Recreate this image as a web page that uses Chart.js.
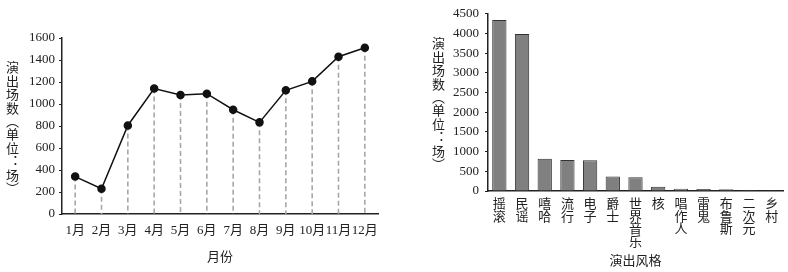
<!DOCTYPE html>
<html>
<head>
<meta charset="utf-8">
<script src="https://cdn.jsdelivr.net/npm/chart.js@4/dist/chart.umd.min.js"></script>
<style>
  body { margin: 0; background: #fff; width: 788px; height: 272px; position: relative; overflow: hidden; }
  .box { position: absolute; top: 0; height: 272px; }
  .ytitle {
    position: absolute;
    writing-mode: vertical-rl;
    font-family: 'Noto Sans CJK SC', sans-serif;
    font-size: 13px;
    line-height: 1;
    letter-spacing: 0.4px;
    color: #222;
  }
</style>
</head>
<body>
<div class="box" style="left:0;width:395px"><canvas id="monthChart"></canvas></div>
<div class="box" style="left:400px;width:388px"><canvas id="styleChart"></canvas></div>
<div class="ytitle" style="left:6px;top:61px">演出场数（单位：场）</div>
<div class="ytitle" style="left:432px;top:37px">演出场数（单位：场）</div>
<script>
// monthly shows
const months = ['1月', '2月', '3月', '4月', '5月', '6月', '7月', '8月', '9月', '10月', '11月', '12月'];
const monthShows = [340, 230, 805, 1140, 1082, 1094, 948, 833, 1124, 1206, 1430, 1512];
const monthTicks = [0, 200, 400, 600, 800, 1000, 1200, 1400, 1600];

// shows by style
const styles = [['摇', '滚'], ['民', '谣'], ['嘻', '哈'], ['流', '行'], ['电', '子'], ['爵', '士'],
  ['世', '界', '音', '乐'], ['核'], ['唱', '作', '人'], ['雷', '鬼'], ['布', '鲁', '斯'], ['二', '次', '元'], ['乡', '村']];
const styleShows = [4340, 3990, 820, 790, 780, 370, 350, 110, 60, 50, 45, 25, 5];
const styleTicks = [0, 500, 1000, 1500, 2000, 2500, 3000, 3500, 4000, 4500];

const fontFam = "'Liberation Serif', 'Noto Sans CJK SC', serif";
const ink = '#222';

// dashed lines from each point down to the x axis
const dropLines = {
  id: 'dropLines',
  beforeDatasetsDraw(chart) {
    const ctx = chart.ctx;
    const bottom = chart.chartArea.bottom;
    const meta = chart.getDatasetMeta(0);
    ctx.save();
    ctx.strokeStyle = '#a8a8a8';
    ctx.lineWidth = 1.6;
    ctx.setLineDash([5, 3]);
    meta.data.forEach(p => {
      ctx.beginPath();
      ctx.moveTo(p.x, p.y);
      ctx.lineTo(p.x, bottom);
      ctx.stroke();
    });
    ctx.restore();
  }
};

new Chart(document.getElementById('monthChart'), {
  type: 'line',
  data: {
    labels: months,
    datasets: [{
      data: monthShows,
      borderColor: '#111',
      borderWidth: 1.5,
      pointRadius: 3.5,
      pointBackgroundColor: '#111',
      pointBorderColor: '#111',
      tension: 0
    }]
  },
  options: {
    responsive: true,
    maintainAspectRatio: false,
    animation: false,
    layout: { padding: { top: 38, right: 17, left: 0, bottom: 0 } },
    plugins: { legend: { display: false }, tooltip: { enabled: false } },
    scales: {
      x: {
        offset: true,
        grid: { display: false, drawTicks: false },
        border: { color: ink, width: 1.5 },
        ticks: { color: ink, font: { family: fontFam, size: 13 }, padding: 9, autoSkip: false, maxRotation: 0 },
        title: { display: true, text: '月份', color: ink, font: { family: fontFam, size: 13 }, padding: { top: 4, bottom: 7 } },
        afterFit(s) { s.height = 58; }
      },
      y: {
        min: 0,
        max: 1600,
        afterBuildTicks(s) { s.ticks = monthTicks.map(v => ({ value: v })); },
        grid: { drawOnChartArea: false, drawTicks: true, tickLength: 3, color: ink },
        border: { color: ink, width: 1.5 },
        ticks: { color: ink, font: { family: fontFam, size: 13 }, padding: 4, callback: v => String(v) },
        afterFit(s) { s.width = 62; }
      }
    }
  },
  plugins: [dropLines]
});

new Chart(document.getElementById('styleChart'), {
  type: 'bar',
  data: {
    labels: styles,
    datasets: [{
      data: styleShows,
      backgroundColor: '#808080',
      borderColor: '#333',
      borderWidth: 1,
      categoryPercentage: 0.63,
      barPercentage: 1
    }]
  },
  options: {
    responsive: true,
    maintainAspectRatio: false,
    animation: false,
    layout: { padding: { top: 10, right: 5, left: 0, bottom: 0 } },
    plugins: { legend: { display: false }, tooltip: { enabled: false } },
    scales: {
      x: {
        grid: { display: false, drawTicks: false },
        border: { color: ink, width: 1.5 },
        ticks: { color: ink, font: { family: fontFam, size: 13, lineHeight: 0.98 }, padding: 7, autoSkip: false, maxRotation: 0 },
        title: { display: true, text: '演出风格', color: ink, font: { family: fontFam, size: 13 }, padding: { top: 1, bottom: 3 } },
        afterFit(s) { s.height = 81; }
      },
      y: {
        min: 0,
        max: 4500,
        afterBuildTicks(s) { s.ticks = styleTicks.map(v => ({ value: v })); },
        grid: { drawOnChartArea: false, drawTicks: true, tickLength: 3, color: ink },
        border: { color: ink, width: 1.5 },
        ticks: { color: ink, font: { family: fontFam, size: 13 }, padding: 6, callback: v => String(v) },
        afterFit(s) { s.width = 88; }
      }
    }
  }
});
</script>
</body>
</html>
